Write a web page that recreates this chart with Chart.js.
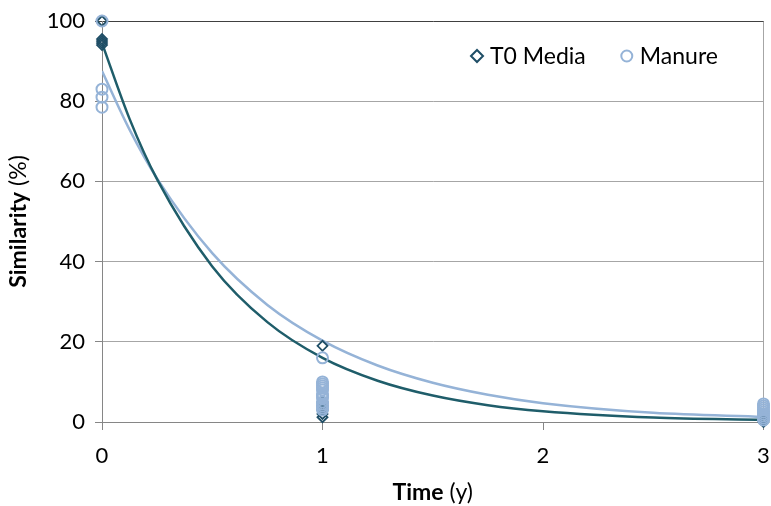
<!DOCTYPE html>
<html>
<head>
<meta charset="utf-8">
<script src="https://cdn.jsdelivr.net/npm/chart.js@4/dist/chart.umd.min.js"></script>
<style>
  html, body { margin: 0; padding: 0; background: #fff; }
  #wrap { width: 771px; height: 506px; }
</style>
</head>
<body>
<div id="wrap"><canvas id="c" width="771" height="506"></canvas></div>
<script>
// Measured similarity per sample (time in years)
const t0Times = [0, 0, 0, 0, 0, 1, 1, 1, 1, 1, 1, 3, 3, 3];
const t0Values = [100, 95.5, 95, 94.5, 94, 19, 5, 4, 3, 2, 1.2, 1, 0.5, 0];
const manureTimes = [0, 0, 0, 0, 1, 1, 1, 1, 1, 1, 1, 1, 1, 1, 1, 1, 1, 1, 3, 3, 3, 3, 3, 3, 3, 3, 3];
const manureValues = [100, 83, 81, 78.5, 16, 10, 9.5, 9, 8.5, 8, 7, 6.5, 6, 5, 4.5, 4, 3.5, 3, 4.5, 4, 3.5, 3, 2.5, 2, 1.5, 1, 0.5];

// Exponential trend curves, sampled along the time axis
const trendTimes = [0, 0.125, 0.25, 0.5, 0.75, 1, 1.25, 1.5, 1.75, 2, 2.5, 3];
const t0Trend = [94.5, 75.6, 60.5, 38.8, 24.9, 16.0, 10.3, 6.6, 4.2, 2.7, 1.1, 0.5];
const manureTrend = [87.5, 72.9, 60.7, 42.1, 29.2, 20.3, 14.1, 9.8, 6.8, 4.7, 2.3, 1.3];

// Axis ticks
const timeTicks = [0, 1, 2, 3];
const similarityTicks = [0, 20, 40, 60, 80, 100];

const seriesNames = ['T0 Media', 'Manure'];

const DARK = '#1F4E66';
const TEAL = '#1F5D6A';
const LIGHT = '#95B3D7';
const GRID = '#A6A6A6';
const AXIS = '#868686';
const FONT = 'Lato, "Open Sans", sans-serif';

const toPoints = (xs, ys) => xs.map((x, i) => ({ x: x, y: ys[i] }));

// Axis titles with a bold word followed by a regular part
function drawMixed(ctx, parts, cx, cy) {
  let total = 0;
  parts.forEach(p => { ctx.font = p[1]; total += ctx.measureText(p[0]).width; });
  let x = cx - total / 2;
  parts.forEach(p => {
    ctx.font = p[1];
    ctx.fillText(p[0], x, cy);
    x += ctx.measureText(p[0]).width;
  });
}

const axisTitles = {
  id: 'axisTitles',
  afterDraw(chart) {
    const { ctx, chartArea: a } = chart;
    ctx.save();
    ctx.fillStyle = '#000';
    ctx.textAlign = 'left';
    ctx.textBaseline = 'middle';
    drawMixed(ctx, [['Time', 'bold 23px ' + FONT], [' (y)', '23px ' + FONT]], (a.left + a.right) / 2, 493);
    ctx.translate(19, (a.top + a.bottom) / 2);
    ctx.rotate(-Math.PI / 2);
    drawMixed(ctx, [['Similarity', 'bold 23px ' + FONT], [' (%)', '23px ' + FONT]], 0, 0);
    ctx.restore();
  }
};

// Legend placed inside the plot, top right
const insideLegend = {
  id: 'insideLegend',
  afterDraw(chart) {
    const { ctx, chartArea: a } = chart;
    ctx.save();
    ctx.font = '23px ' + FONT;
    ctx.textBaseline = 'middle';
    ctx.textAlign = 'left';
    const y = a.top + 35;
    let x = a.left + 375;
    seriesNames.forEach((name, i) => {
      const ds = chart.data.datasets[i];
      ctx.strokeStyle = ds.borderColor;
      ctx.lineWidth = 2;
      ctx.beginPath();
      if (ds.pointStyle === 'rectRot') {
        const r = 6;
        ctx.moveTo(x - r, y); ctx.lineTo(x, y - r); ctx.lineTo(x + r, y); ctx.lineTo(x, y + r); ctx.closePath();
      } else {
        ctx.arc(x, y, 5.5, 0, Math.PI * 2);
      }
      ctx.stroke();
      ctx.fillStyle = '#000';
      ctx.fillText(name, x + 13, y + 1);
      x += 13 + ctx.measureText(name).width + 41;
    });
    ctx.restore();
  }
};

new Chart(document.getElementById('c'), {
  type: 'scatter',
  data: {
    datasets: [
      {
        label: seriesNames[0],
        data: toPoints(t0Times, t0Values),
        pointStyle: 'rectRot',
        pointRadius: 5,
        pointBorderWidth: 1.8,
        borderColor: DARK,
        backgroundColor: 'transparent',
        clip: false,
        order: 2
      },
      {
        label: seriesNames[1],
        data: toPoints(manureTimes, manureValues),
        pointStyle: 'circle',
        pointRadius: 5.5,
        pointBorderWidth: 2,
        borderColor: LIGHT,
        backgroundColor: 'transparent',
        clip: false,
        order: 1
      },
      {
        label: 'T0 Media trend',
        data: toPoints(trendTimes, t0Trend),
        showLine: true,
        pointRadius: 0,
        borderColor: TEAL,
        borderWidth: 2.5,
        cubicInterpolationMode: 'monotone',
        order: 3
      },
      {
        label: 'Manure trend',
        data: toPoints(trendTimes, manureTrend),
        showLine: true,
        pointRadius: 0,
        borderColor: LIGHT,
        borderWidth: 2.5,
        cubicInterpolationMode: 'monotone',
        order: 4
      }
    ]
  },
  options: {
    responsive: false,
    animation: false,
    devicePixelRatio: 1,
    layout: { padding: { top: 21, right: 6, left: 0, bottom: 0 } },
    plugins: {
      legend: { display: false },
      tooltip: { enabled: false }
    },
    scales: {
      x: {
        type: 'linear',
        min: 0,
        max: 3,
        afterBuildTicks: s => { s.ticks = timeTicks.map(v => ({ value: v })); },
        afterFit: s => { s.height = 84; s.paddingLeft = 0; s.paddingRight = 0; },
        ticks: {
          color: '#000',
          font: { family: FONT, size: 22 },
          padding: 13,
          maxRotation: 0,
          callback: v => String(v)
        },
        grid: {
          color: c => (c.tick && c.tick.value === 3) ? GRID : 'rgba(0,0,0,0)',
          tickColor: AXIS,
          tickLength: 8,
          lineWidth: 1
        },
        border: { color: AXIS, width: 1 }
      },
      y: {
        type: 'linear',
        min: 0,
        max: 100,
        afterBuildTicks: s => { s.ticks = similarityTicks.map(v => ({ value: v })); },
        afterFit: s => { s.width = 102; s.paddingTop = 0; s.paddingBottom = 0; },
        ticks: {
          color: '#000',
          font: { family: FONT, size: 22 },
          padding: 10,
          callback: v => String(v)
        },
        grid: {
          color: c => (c.tick && c.tick.value === 100) ? '#404040' : GRID,
          tickColor: c => (c.tick && c.tick.value === 100) ? '#404040' : AXIS,
          tickLength: 7,
          lineWidth: 1
        },
        border: { color: AXIS, width: 1 }
      }
    }
  },
  plugins: [axisTitles, insideLegend]
});
</script>
</body>
</html>
